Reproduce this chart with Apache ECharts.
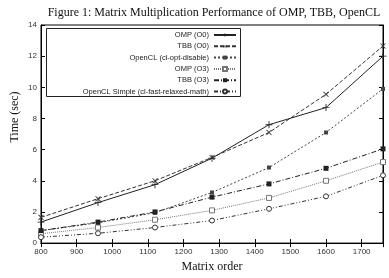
<!DOCTYPE html>
<html>
<head>
<meta charset="utf-8">
<script src="https://cdn.jsdelivr.net/npm/echarts@6/dist/echarts.min.js"></script>
<style>
  html, body { margin: 0; padding: 0; background: #fff; }
  #chart { width: 389px; height: 278px; }
</style>
</head>
<body>
<div id="chart"></div>
<script>
// matrix order (x) and run time in seconds for each build
var sizes = [800, 960, 1120, 1280, 1440, 1600, 1760];
var ompO0 = [1.35, 2.6, 3.75, 5.45, 7.6, 8.7, 12.0];
var tbbO0 = [1.65, 2.85, 4.0, 5.5, 7.1, 9.55, 12.65];
var oclDisable = [0.8, 1.3, 1.95, 3.25, 4.85, 7.1, 9.9];
var ompO3 = [0.6, 1.0, 1.5, 2.1, 2.9, 4.0, 5.2];
var tbbO3 = [0.8, 1.35, 2.0, 2.95, 3.8, 4.8, 6.05];
var oclSimple = [0.38, 0.63, 1.0, 1.45, 2.2, 3.0, 4.35];

var names = ['OMP (O0)', 'TBB (O0)', 'OpenCL (cl-opt-disable)', 'OMP (O3)', 'TBB (O3)', 'OpenCL Simple (cl-fast-relaxed-math)'];
var values = [ompO0, tbbO0, oclDisable, ompO3, tbbO3, oclSimple];

var plus = 'path://M3.5,0H4.5V3.5H8V4.5H4.5V8H3.5V4.5H0V3.5H3.5Z';
var styles = [
  { color: '#222', type: 'solid', symbol: plus, size: 7, rotate: 0, fill: '#222' },
  { color: '#333', type: [4, 2], symbol: plus, size: 7, rotate: 45, fill: '#333' },
  { color: '#444', type: [2, 2], symbol: 'rect', size: 4, rotate: 0, fill: '#444' },
  { color: '#777', type: [1, 1], symbol: 'rect', size: 5, rotate: 0, fill: '#fff' },
  { color: '#222', type: [5, 2, 1, 2], symbol: 'rect', size: 5, rotate: 0, fill: '#222' },
  { color: '#333', type: [4, 2, 1, 2, 1, 2], symbol: 'circle', size: 5, rotate: 0, fill: '#fff' }
];

var chart = echarts.init(document.getElementById('chart'));

var series = names.map(function (name, i) {
  var s = styles[i];
  return {
    name: name,
    type: 'line',
    data: sizes.map(function (x, j) { return [x, values[i][j]]; }),
    symbol: s.symbol,
    symbolSize: s.size,
    symbolRotate: s.rotate,
    showAllSymbol: true,
    lineStyle: { color: s.color, width: 1, type: s.type },
    itemStyle: { color: s.fill, borderColor: s.color, borderWidth: s.fill === '#fff' ? 1 : 0 },
    emphasis: { disabled: true },
    animation: false
  };
});

// one legend per entry so the samples line up on the right like gnuplot
var legends = names.map(function (name, i) {
  return {
    data: [name],
    orient: 'vertical',
    align: 'right',
    right: 152,
    top: 31 + i * 11.3,
    padding: 0,
    itemWidth: 22,
    itemHeight: 5,
    textStyle: { fontSize: 7.5, color: '#222', fontFamily: 'Liberation Sans' },
    selectedMode: false
  };
});

var tickFont = { fontSize: 8, color: '#333', fontFamily: 'Liberation Sans' };

var option = {
  backgroundColor: '#fff',
  animation: false,
  title: {
    text: 'Figure 1: Matrix Multiplication Performance of OMP, TBB, OpenCL',
    left: 214,
    textAlign: 'center',
    top: 7,
    padding: 0,
    textStyle: { fontSize: 12, fontWeight: 'normal', color: '#111', fontFamily: 'Liberation Serif' }
  },
  legend: legends,
  grid: { left: 41, right: 6, top: 25, bottom: 25, show: true, borderColor: '#000', borderWidth: 1 },
  xAxis: [{
    type: 'value',
    min: 800,
    max: 1760,
    interval: 100,
    name: 'Matrix order',
    nameLocation: 'middle',
    nameGap: 15,
    nameTextStyle: { fontSize: 12, color: '#111', fontFamily: 'Liberation Serif' },
    axisLine: { show: true, lineStyle: { color: '#000' } },
    axisTick: { inside: true, length: 4, lineStyle: { color: '#000' } },
    axisLabel: Object.assign({
      margin: 5,
      showMaxLabel: false,
      formatter: function (v) { return String(v); }
    }, tickFont),
    splitLine: { show: false }
  }, {
    type: 'value',
    position: 'top',
    min: 800,
    max: 1760,
    interval: 100,
    axisLine: { show: true, lineStyle: { color: '#000' } },
    axisTick: { inside: true, length: 4, lineStyle: { color: '#000' } },
    axisLabel: { show: false },
    splitLine: { show: false }
  }],
  yAxis: [{
    type: 'value',
    min: 0,
    max: 14,
    interval: 2,
    axisLine: { show: true, lineStyle: { color: '#000' } },
    axisTick: { inside: true, length: 4, lineStyle: { color: '#000' } },
    axisLabel: Object.assign({ margin: 4 }, tickFont),
    splitLine: { show: false }
  }, {
    type: 'value',
    position: 'right',
    min: 0,
    max: 14,
    interval: 2,
    axisLine: { show: true, lineStyle: { color: '#000' } },
    axisTick: { inside: true, length: 4, lineStyle: { color: '#000' } },
    axisLabel: { show: false },
    splitLine: { show: false }
  }],
  graphic: [{
    type: 'rect',
    shape: { x: 46.5, y: 28.5, width: 194, height: 68 },
    style: { fill: 'none', stroke: '#222', lineWidth: 1 },
    z: 10
  }, {
    type: 'text',
    x: 15,
    y: 117,
    rotation: Math.PI / 2,
    style: { text: 'Time (sec)', fontSize: 12, fill: '#111', fontFamily: 'Liberation Serif', align: 'center', verticalAlign: 'middle' }
  }],
  series: series
};

chart.setOption(option);
</script>
</body>
</html>
